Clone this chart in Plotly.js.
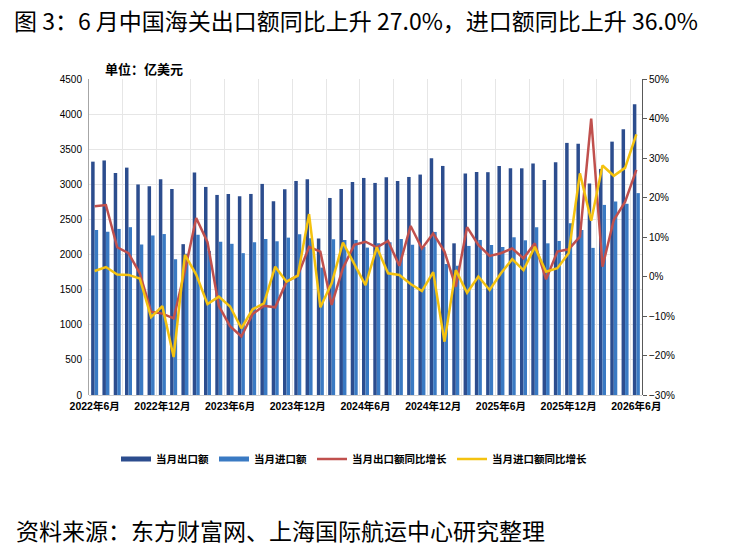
<!DOCTYPE html>
<html>
<head>
<meta charset="utf-8">
<script src="https://cdn.plot.ly/plotly-3.0.1.min.js"></script>
<style>
  html, body { margin: 0; padding: 0; background: #fff; }
  #chart { width: 735px; height: 552px; }
</style>
</head>
<body>
<div id="chart"></div>
<script>
// months, 2022-06 .. 2026-06
var months = [
  '2022年6月', '2022年7月', '2022年8月', '2022年9月', '2022年10月', '2022年11月', '2022年12月',
  '2023年1月', '2023年2月', '2023年3月', '2023年4月', '2023年5月', '2023年6月',
  '2023年7月', '2023年8月', '2023年9月', '2023年10月', '2023年11月', '2023年12月',
  '2024年1月', '2024年2月', '2024年3月', '2024年4月', '2024年5月', '2024年6月',
  '2024年7月', '2024年8月', '2024年9月', '2024年10月', '2024年11月', '2024年12月',
  '2025年1月', '2025年2月', '2025年3月', '2025年4月', '2025年5月', '2025年6月',
  '2025年7月', '2025年8月', '2025年9月', '2025年10月', '2025年11月', '2025年12月',
  '2026年1月', '2026年2月', '2026年3月', '2026年4月', '2026年5月', '2026年6月'
];

// 当月出口额 (亿美元)
var exportValue = [
  3323, 3340, 3162, 3238, 2998, 2972, 3073,
  2934, 2148, 3169, 2963, 2849, 2862,
  2830, 2863, 3006, 2759, 2930, 3048,
  3072, 2227, 2806, 2934, 3034, 3091,
  3020, 3101, 3048, 3105, 3139, 3371,
  3262, 2160, 3153, 3177, 3173, 3261,
  3228, 3228, 3297, 3062, 3315, 3590,
  3578, 3012, 3219, 3608, 3783, 4140
];

// 当月进口额 (亿美元)
var importValue = [
  2348, 2324, 2365, 2390, 2143, 2272, 2292,
  1933, 2010, 2282, 2050, 2184, 2153,
  2020, 2175, 2222, 2189, 2241, 2289,
  2232, 1814, 2218, 2208, 2208, 2099,
  2160, 2175, 2222, 2141, 2110, 2322,
  1866, 1842, 2123, 2208, 2135, 2108,
  2246, 2203, 2388, 2160, 2194, 2445,
  2350, 2095, 2707, 2754, 2723, 2875
];

// 当月出口额同比增长 (%)
var exportYoY = [
  17.8, 18.1, 7.4, 5.9, 0.8, -8.9, -9.4,
  -10.6, 1.5, 14.8, 8.7, -7.4, -12.6,
  -15.2, -9.5, -7.4, -7.8, -1.3, 0.2,
  7.5, 6.3, -7.2, 2.1, 8.0, 8.8,
  7.4, 9.0, 2.7, 12.8, 7.1, 10.9,
  6.3, -2.6, 12.5, 8.0, 5.2, 5.9,
  7.1, 4.6, 8.4, -0.7, 6.3, 6.9,
  10.1, 40.0, 2.5, 14.3, 18.9, 27.0
];

// 当月进口额同比增长 (%)
var importYoY = [
  1.4, 2.4, 0.5, 0.4, -0.5, -10.3, -7.5,
  -20.4, 5.5, 0.5, -7.0, -5.1, -7.6,
  -13.1, -8.3, -6.8, 2.5, -1.3, 0.2,
  15.8, -7.8, -1.7, 8.6, 3.2, -2.2,
  7.4, 0.8, 0.4, -1.9, -3.7, 1.1,
  -16.5, 1.6, -4.1, 0.0, -3.4, 0.8,
  4.4, 1.6, 7.5, 1.2, 2.1, 5.9,
  26.1, 14.1, 28.1, 25.5, 27.5, 36.0
];

// grid every quarter, label every half year
var tickMonths = [
  '2022年6月', '2022年9月', '2022年12月', '2023年3月', '2023年6月', '2023年9月', '2023年12月',
  '2024年3月', '2024年6月', '2024年9月', '2024年12月', '2025年3月', '2025年6月',
  '2025年9月', '2025年12月', '2026年3月', '2026年6月'
];
var tickLabels = tickMonths.map(function (m) {
  return (m.indexOf('年6月') > 0 || m.indexOf('年12月') > 0) ? m : '';
});

var cjk = 'Noto Sans CJK SC';
var num = 'Liberation Sans, Noto Sans CJK SC';
var exportColor = '#2C4D8E';
var importColor = '#3A7AC3';
var redColor = '#C0504D';
var yellowColor = '#F4C20F';

var traces = [
  {
    x: months, y: exportValue, type: 'bar', name: '当月出口额',
    marker: { color: exportColor }, showlegend: false, hoverinfo: 'x+y'
  },
  {
    x: months, y: importValue, type: 'bar', name: '当月进口额',
    marker: { color: importColor }, showlegend: false, hoverinfo: 'x+y'
  },
  // legend keys only (one empty point each), drawn as thick bars like the source
  {
    x: [months[0]], y: [null], type: 'scatter', mode: 'lines', name: '当月出口额',
    line: { color: exportColor, width: 5 }, hoverinfo: 'skip'
  },
  {
    x: [months[0]], y: [null], type: 'scatter', mode: 'lines', name: '当月进口额',
    line: { color: importColor, width: 5 }, hoverinfo: 'skip'
  },
  {
    x: months, y: exportYoY, type: 'scatter', mode: 'lines', name: '当月出口额同比增长',
    yaxis: 'y2', line: { color: redColor, width: 2.5 }
  },
  {
    x: months, y: importYoY, type: 'scatter', mode: 'lines', name: '当月进口额同比增长',
    yaxis: 'y2', line: { color: yellowColor, width: 2.5 }
  }
];

var layout = {
  width: 735,
  height: 552,
  margin: { l: 89, r: 93, t: 79, b: 157 },
  paper_bgcolor: '#fff',
  plot_bgcolor: '#fff',
  font: { family: num, color: '#000' },
  barmode: 'group',
  bargap: 0.38,
  bargroupgap: 0,
  title: {
    text: '图 3：6 月中国海关出口额同比上升 27.0%，进口额同比上升 36.0%',
    font: { family: cjk, size: 23, color: '#000' },
    xref: 'container', yref: 'container',
    x: 14 / 735, xanchor: 'left',
    y: 1 - 22 / 552, yanchor: 'middle'
  },
  xaxis: {
    type: 'category',
    categoryorder: 'array',
    categoryarray: months,
    tickmode: 'array',
    tickvals: tickMonths,
    ticktext: tickLabels,
    tickson: 'boundaries',
    ticks: '',
    tickangle: 0,
    ticklabelstandoff: 3,
    tickfont: { family: num, size: 10.5, color: '#000', weight: 'bold' },
    showgrid: true,
    gridcolor: '#E6E6E6',
    gridwidth: 1,
    showline: false,
    zeroline: false
  },
  yaxis: {
    range: [0, 4500],
    dtick: 500,
    tickfont: { family: num, size: 10, color: '#000' },
    showgrid: true,
    gridcolor: '#E6E6E6',
    zeroline: true,
    zerolinecolor: '#D0D0D0',
    zerolinewidth: 1,
    showline: true,
    linecolor: '#A6A6A6',
    linewidth: 1,
    ticks: '',
    ticklabelstandoff: 4
  },
  yaxis2: {
    overlaying: 'y',
    side: 'right',
    range: [-30, 50],
    dtick: 10,
    ticksuffix: '%',
    tickfont: { family: num, size: 10, color: '#000' },
    showgrid: false,
    zeroline: false,
    showline: true,
    linecolor: '#595959',
    linewidth: 1,
    ticks: 'outside',
    ticklen: 4,
    tickcolor: '#595959'
  },
  legend: {
    orientation: 'h',
    x: (116 - 89) / 553, xanchor: 'left',
    y: (395 - 459) / 316, yanchor: 'middle',
    font: { family: cjk, size: 10.5, color: '#000', weight: 'bold' },
    bgcolor: 'rgba(0,0,0,0)',
    traceorder: 'normal'
  },
  annotations: [
    {
      text: '单位：亿美元',
      xref: 'paper', yref: 'paper',
      x: (103 - 89) / 553, y: (395 - 68) / 316,
      xanchor: 'left', yanchor: 'middle',
      showarrow: false,
      font: { family: cjk, size: 13, color: '#000', weight: 'bold' }
    },
    {
      text: '资料来源：东方财富网、上海国际航运中心研究整理',
      xref: 'paper', yref: 'paper',
      x: (14 - 89) / 553, y: (395 - 530) / 316,
      xanchor: 'left', yanchor: 'middle',
      showarrow: false,
      font: { family: cjk, size: 23, color: '#000' }
    }
  ]
};

Plotly.newPlot('chart', traces, layout, { displayModeBar: false, staticPlot: true });
</script>
</body>
</html>
